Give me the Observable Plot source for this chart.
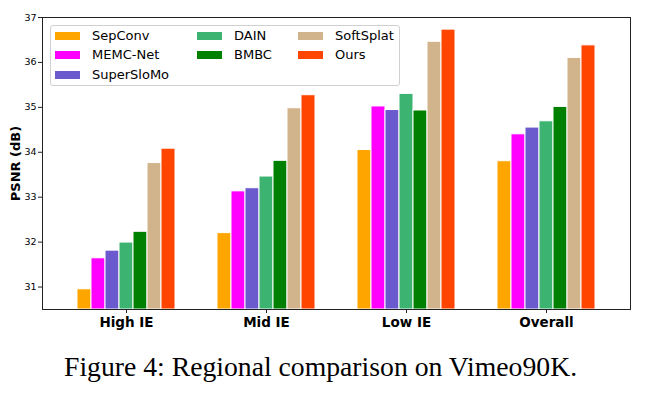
<!DOCTYPE html>
<html>
<head>
<meta charset="utf-8">
<script src="https://cdn.jsdelivr.net/npm/d3@7"></script>
<script src="https://cdn.jsdelivr.net/npm/@observablehq/plot@0.6"></script>
<style>
  html, body { margin: 0; padding: 0; background: #fff; }
  #wrap { position: relative; width: 647px; height: 395px; overflow: hidden; }
  #legend { position: absolute; left: 50px; top: 25px; width: 348px; height: 59px;
            border: 1px solid #d0d0d0; border-radius: 3px; background: rgba(255,255,255,0.8);
            font-family: "DejaVu Sans", sans-serif; font-size: 13px; color: #000; }
  .item { position: absolute; height: 19px; line-height: 19px; white-space: nowrap; }
  .sw { position: absolute; left: 0; top: 6px; width: 25px; height: 8px; }
  .lab { position: absolute; left: 37px; top: 0; }
  #caption { position: absolute; left: 64px; top: 351px; font-family: "Liberation Serif", serif;
             font-size: 27.7px; color: #000; white-space: nowrap; }
</style>
</head>
<body>
<div id="wrap"><div id="chart"></div><div id="legend"></div><div id="caption">Figure 4: Regional comparison on Vimeo90K.</div></div>
<script>
const groups = ["High IE", "Mid IE", "Low IE", "Overall"];
const methods = ["SepConv", "MEMC-Net", "SuperSloMo", "DAIN", "BMBC", "SoftSplat", "Ours"];
const colors = ["#FFA500", "#FF00FF", "#6A5ACD", "#3CB371", "#008000", "#D2B48C", "#FF4500"];
// PSNR (dB) per method, in the order of groups
const sepconv    = [30.95, 32.20, 34.05, 33.80];
const memcnet    = [31.64, 33.13, 35.02, 34.40];
const superslomo = [31.81, 33.20, 34.94, 34.55];
const dain       = [31.99, 33.46, 35.30, 34.69];
const bmbc       = [32.23, 33.81, 34.93, 35.01];
const softsplat  = [33.76, 34.98, 36.46, 36.10];
const ours       = [34.08, 35.27, 36.73, 36.38];
const yTicks = [31, 32, 33, 34, 35, 36, 37];
const yDomain = [30.5, 37];

const series = [sepconv, memcnet, superslomo, dain, bmbc, softsplat, ours];
const data = [];
groups.forEach((g, gi) => methods.forEach((m, mi) => data.push({group: g, method: m, key: g + "|" + m, value: series[mi][gi]})));

// band domain: bars of each group, with three empty slots between groups
const xDomain = [];
groups.forEach((g, gi) => {
  if (gi > 0) for (let k = 0; k < 3; k++) xDomain.push("gap" + gi + "-" + k);
  methods.forEach(m => xDomain.push(g + "|" + m));
});
const centerMethod = methods[3];
const xTicks = groups.map(g => g + "|" + centerMethod);

const chart = Plot.plot({
  width: 647,
  height: 340,
  marginLeft: 42,
  marginRight: 17,
  marginTop: 17,
  marginBottom: 31,
  style: {fontFamily: "DejaVu Sans, sans-serif", background: "transparent", color: "#000"},
  x: {type: "band", domain: xDomain, paddingInner: 0, paddingOuter: 1.9, label: null},
  y: {domain: yDomain, label: null},
  color: {domain: methods, range: colors},
  marks: [
    Plot.barY(data, {x: "key", y1: yDomain[0], y2: "value", fill: "method", stroke: "white", strokeWidth: 1}),
    Plot.frame({stroke: "#222", strokeWidth: 1}),
    Plot.axisY({ticks: yTicks, tickFormat: d3.format("d"), tickSize: 4, tickPadding: 2, fontSize: 9.5, label: null, stroke: "#222"}),
    Plot.axisX({ticks: xTicks, tickFormat: d => d.split("|")[0], tickSize: 4, tickPadding: 4,
                fontSize: 13.5, fontWeight: "bold", label: null, stroke: "#222"}),
    Plot.text(["PSNR (dB)"], {frameAnchor: "left", textAnchor: "middle", dx: -27, rotate: -90, fontSize: 13, fontWeight: "bold", fill: "#000"})
  ]
});
document.getElementById("chart").appendChild(chart);

// legend (matplotlib style, 3 columns, column-major)
const legend = document.getElementById("legend");
const ncol = 3, base = Math.floor(methods.length / ncol), extra = methods.length % ncol;
const colLeft = [4, 146, 247];
let idx = 0;
for (let c = 0; c < ncol; c++) {
  const n = base + (c < extra ? 1 : 0);
  for (let r = 0; r < n; r++, idx++) {
    const it = document.createElement("div");
    it.className = "item";
    it.style.left = colLeft[c] + "px";
    it.style.top = (0 + r * 19.3) + "px";
    it.innerHTML = `<span class="sw" style="background:${colors[idx]}"></span><span class="lab">${methods[idx]}</span>`;
    legend.appendChild(it);
  }
}
</script>
</body>
</html>
